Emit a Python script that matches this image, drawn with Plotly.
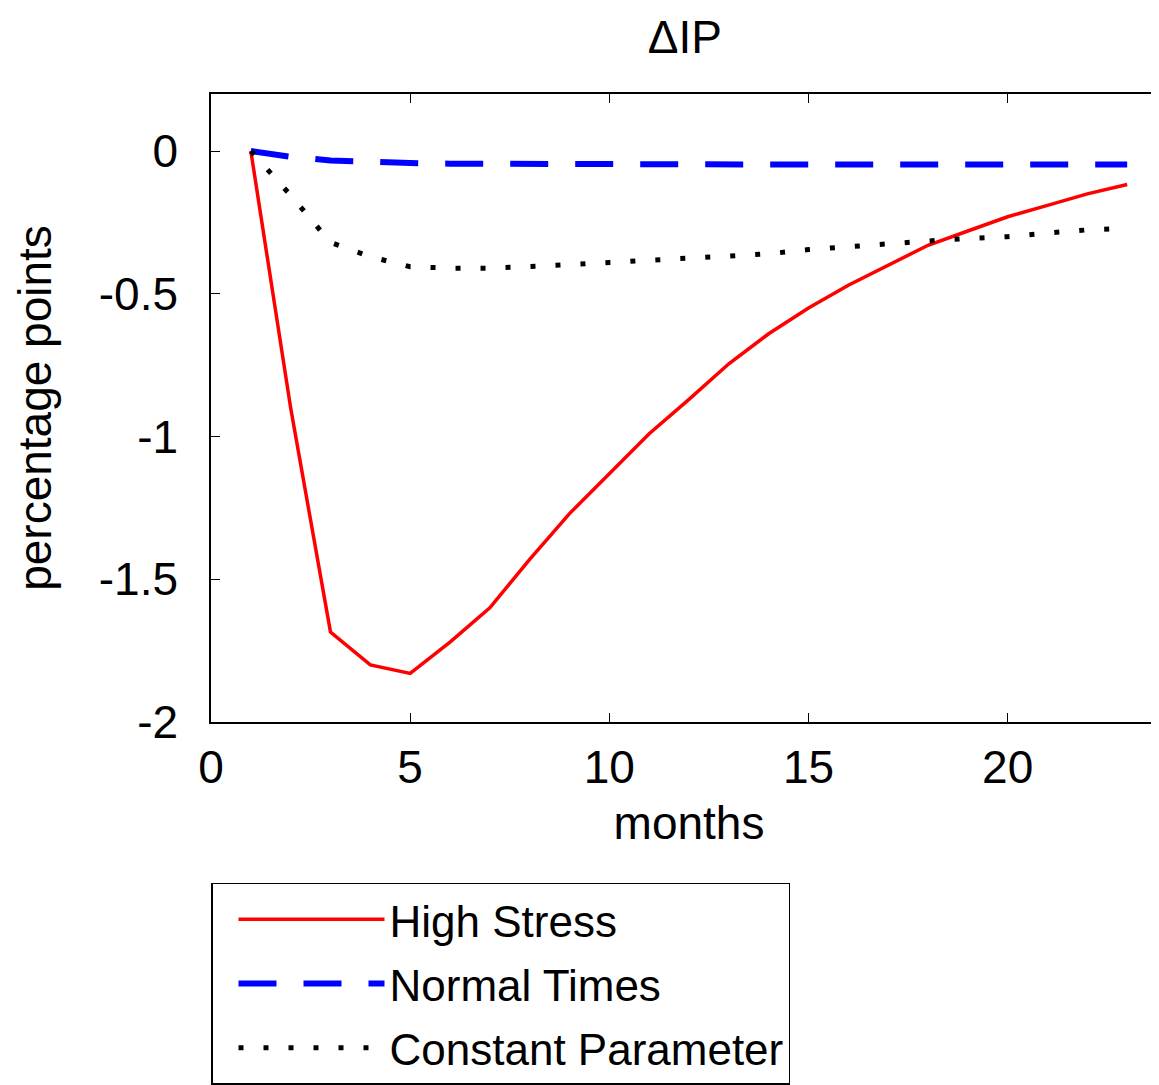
import plotly.graph_objects as go

months = list(range(1, 24))
high_stress = [0, -0.90, -1.685, -1.80, -1.83, -1.72, -1.60, -1.43, -1.27, -1.13,
               -0.99, -0.87, -0.745, -0.64, -0.55, -0.47, -0.40, -0.33, -0.28,
               -0.23, -0.19, -0.15, -0.117]
normal_times = [0, -0.02, -0.033, -0.039, -0.042, -0.044, -0.045, -0.046, -0.046,
                -0.047, -0.047, -0.047, -0.047, -0.047, -0.047, -0.047, -0.047,
                -0.047, -0.047, -0.047, -0.047, -0.047, -0.047]
constant_param = [0, -0.155, -0.32, -0.37, -0.405, -0.41, -0.41, -0.405, -0.398,
                  -0.39, -0.383, -0.376, -0.368, -0.36, -0.345, -0.334, -0.322,
                  -0.315, -0.306, -0.30, -0.287, -0.276, -0.27]
x_ticks = [0, 5, 10, 15, 20]
y_ticks = [-2, -1.5, -1, -0.5, 0]
y_tick_labels = ["-2", "-1.5", "-1", "-0.5", "0"]

FONT = "Liberation Sans, Arial, sans-serif"

fig = go.Figure()
fig.add_trace(go.Scatter(x=months, y=high_stress, mode="lines", name="High Stress",
                         legendgroup="a",
                         line=dict(color="#ff0000", width=3.5)))
fig.add_trace(go.Scatter(x=months, y=normal_times, mode="lines", name="Normal Times",
                         legendgroup="b",
                         line=dict(color="#0000ff", width=6, dash="38px,27px")))
fig.add_trace(go.Scatter(x=months, y=constant_param, mode="lines", name="Constant Parameter",
                         legendgroup="c",
                         line=dict(color="#000000", width=5, dash="5px,20px")))

fig.update_layout(
    width=1159, height=1085,
    margin=dict(l=203, r=0, t=86, b=371, autoexpand=False),
    paper_bgcolor="white", plot_bgcolor="white",
    font=dict(family=FONT, size=44, color="black"),
    title=dict(text="ΔIP", x=0.584, xanchor="center", y=1 - 29 / 1085, yanchor="middle",
               font=dict(family=FONT, size=46, color="black")),
    showlegend=True,
    legend=dict(x=0, xanchor="left", y=-0.256, yanchor="top",
                bordercolor="black", borderwidth=1.5, bgcolor="white",
                font=dict(family=FONT, size=44, color="black"),
                itemwidth=146, indentation=21, tracegroupgap=4,
                entrywidth=420),
)
fig.update_xaxes(range=[0, 24], tickvals=x_ticks, ticks="inside", ticklen=9,
                 tickcolor="black", showline=True, linecolor="black", linewidth=1.5,
                 mirror="ticks", showgrid=False, zeroline=False, automargin=False,
                 tickfont=dict(family=FONT, size=46), ticklabelstandoff=4,
                 title=dict(text="months", font=dict(family=FONT, size=46), standoff=15))
fig.update_yaxes(range=[-2, 0.2], tickvals=y_ticks, ticktext=y_tick_labels, ticks="inside",
                 ticklen=9, tickcolor="black", showline=True, linecolor="black",
                 linewidth=1.5, mirror="ticks", showgrid=False, zeroline=False,
                 automargin=False,
                 tickfont=dict(family=FONT, size=46), ticklabelstandoff=22,
                 title=dict(text="percentage points", font=dict(family=FONT, size=46),
                            standoff=33))

fig.write_html("out.html")
